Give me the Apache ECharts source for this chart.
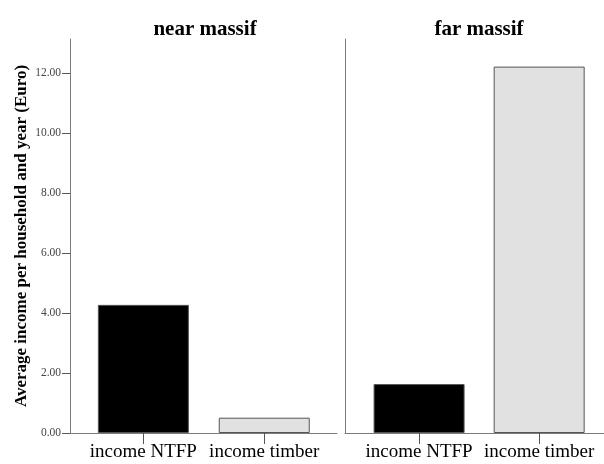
<!DOCTYPE html>
<html>
<head>
<meta charset="utf-8">
<script src="https://cdn.jsdelivr.net/npm/echarts@6/dist/echarts.min.js"></script>
<style>
  html, body { margin: 0; padding: 0; background: #fff; }
  #chart { width: 604px; height: 464px; }
</style>
</head>
<body>
<div id="chart"></div>
<script>
var categories = ['income NTFP', 'income timber']
var panels = ['near massif', 'far massif']
var nearValues = [4.27, 0.51]
var farValues = [1.63, 12.21]
var yTicks = [0, 2, 4, 6, 8, 10, 12]
var barColors = ['#000000', '#e1e1e1']

var serif = '"Liberation Serif", "DejaVu Serif", serif'
var axisColor = '#7a7a7a'

function barData(values) {
  return values.map(function (v, i) {
    return {
      value: [i, v],
      itemStyle: { color: barColors[i], borderColor: '#555', borderWidth: 1 }
    }
  })
}

function xAxisFor(idx, min, max) {
  return {
    type: 'value',
    gridIndex: idx,
    min: min,
    max: max,
    splitLine: { show: false },
    axisLine: { show: true, onZero: false, lineStyle: { color: axisColor, width: 1 } },
    axisTick: {
      show: true,
      customValues: [0, 1],
      length: 11,
      lineStyle: { color: '#555' }
    },
    axisLabel: {
      customValues: [0, 1],
      formatter: function (v) { return categories[Math.round(v)] },
      fontFamily: serif,
      fontSize: 19,
      color: '#000',
      margin: 10
    }
  }
}

var chart = echarts.init(document.getElementById('chart'))

chart.setOption({
  animation: false,
  title: [
    {
      text: panels[0],
      left: 200,
      top: 14,
      textAlign: 'center',
      textStyle: { fontFamily: serif, fontSize: 21, fontWeight: 'bold', color: '#000' }
    },
    {
      text: panels[1],
      left: 474,
      top: 14,
      textAlign: 'center',
      textStyle: { fontFamily: serif, fontSize: 21, fontWeight: 'bold', color: '#000' }
    }
  ],
  grid: [
    { left: 70, top: 39, width: 267, height: 394 },
    { left: 345, top: 39, right: 0, height: 394 }
  ],
  xAxis: [
    xAxisFor(0, -0.607, 1.602),
    xAxisFor(1, -0.617, 1.54)
  ],
  yAxis: [
    {
      type: 'value',
      gridIndex: 0,
      min: 0,
      max: 13.13,
      interval: 2,
      name: 'Average income per household and year (Euro)',
      nameLocation: 'middle',
      nameGap: 40,
      nameTextStyle: { fontFamily: serif, fontSize: 17, fontWeight: 'bold', color: '#000' },
      splitLine: { show: false },
      axisLine: { show: true, onZero: false, lineStyle: { color: axisColor } },
      axisTick: { show: true, length: 8, lineStyle: { color: '#555' } },
      axisLabel: {
        showMaxLabel: false,
        formatter: function (v) { return yTicks.indexOf(v) >= 0 ? v.toFixed(2) : '' },
        fontFamily: serif,
        fontSize: 11.5,
        color: '#444',
        margin: 9
      }
    },
    {
      type: 'value',
      gridIndex: 1,
      min: 0,
      max: 13.13,
      interval: 2,
      splitLine: { show: false },
      axisLine: { show: true, onZero: false, lineStyle: { color: axisColor } },
      axisTick: { show: false },
      axisLabel: { show: false }
    }
  ],
  series: [
    {
      type: 'bar',
      xAxisIndex: 0,
      yAxisIndex: 0,
      barWidth: 91,
      data: barData(nearValues)
    },
    {
      type: 'bar',
      xAxisIndex: 1,
      yAxisIndex: 1,
      barWidth: 91,
      data: barData(farValues)
    }
  ]
})
</script>
</body>
</html>
